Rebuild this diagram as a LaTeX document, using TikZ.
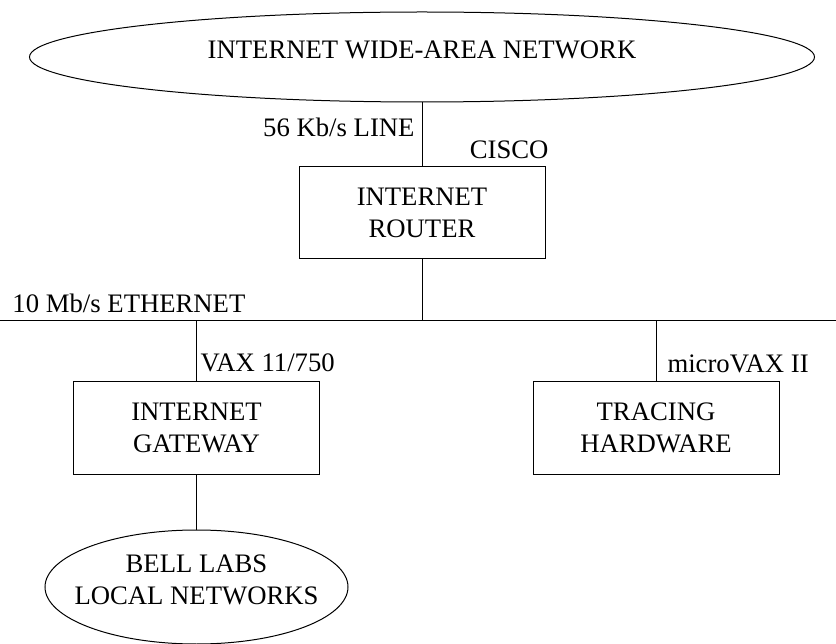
\documentclass[tikz,border=0pt]{standalone}
\usepackage{fontspec}
\setmainfont{Liberation Serif}
\usetikzlibrary{shapes}
\newcommand{\netfont}{\fontsize{26.7}{32}\selectfont}

\begin{document}
\begin{tikzpicture}[x=1pt, y=-1pt, line width=1pt,
        every node/.style={font=\netfont, inner sep=0pt},
        net/.style={draw, ellipse, align=center, inner xsep=-20pt, text depth=14pt},
        box/.style={draw, rectangle, align=center, minimum width=246pt, minimum height=92pt}]
        \useasboundingbox (0,0) rectangle (836,644);
        % wide-area network and router
        \node[net, minimum width=785pt, minimum height=90pt] (wan) at (422,57) {INTERNET WIDE-AREA NETWORK};
        \node[box] (router) at (422,213) {INTERNET\\ROUTER};
        \draw (wan.south) -- (router.north);
        \node[anchor=base east] (linetag) at (415,137) {56 Kb/s LINE};
        \node[anchor=base east] (ciscotag) at (549,159) {CISCO};
        % ethernet
        \coordinate (ethw) at (0,321);
        \coordinate (ethe) at (836,321);
        \draw (ethw) -- (ethe);
        \node[anchor=base west] (ethtag) at (12,313) {10 Mb/s ETHERNET};
        \draw (router.south) -- (router.south |- ethw);
        % gateway and local networks
        \node[box] (gateway) at (196.5,428) {INTERNET\\GATEWAY};
        \draw (gateway.north) -- (gateway.north |- ethw);
        \node[anchor=base west] (vaxtag) at (200,372) {VAX 11/750};
        \node[net, minimum width=303pt, minimum height=114pt] (bell) at (196.5,587) {BELL LABS\\LOCAL NETWORKS};
        \draw (gateway.south) -- (bell.north);
        % tracing machine
        \node[box] (tracing) at (656,428) {TRACING\\HARDWARE};
        \draw (tracing.north) -- (tracing.north |- ethw);
        \node[anchor=base west] (mvaxtag) at (667,373) {microVAX II};
    \end{tikzpicture}
\end{document}
